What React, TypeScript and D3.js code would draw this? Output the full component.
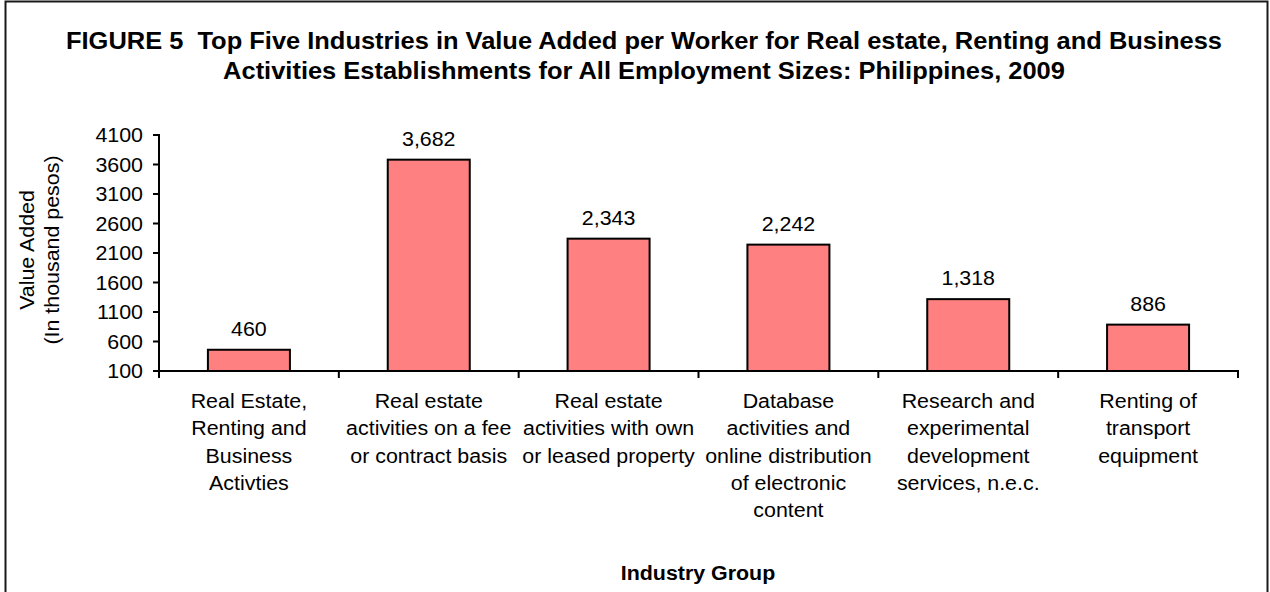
import React from "react";
import * as d3 from "d3";

const categories: string[][] = [
  ["Real Estate,", "Renting and", "Business", "Activties"],
  ["Real estate", "activities on a fee", "or contract basis"],
  ["Real estate", "activities with own", "or leased property"],
  ["Database", "activities and", "online distribution", "of electronic", "content"],
  ["Research and", "experimental", "development", "services, n.e.c."],
  ["Renting of", "transport", "equipment"],
];
const values: number[] = [460, 3682, 2343, 2242, 1318, 886];
const yTicks: number[] = [100, 600, 1100, 1600, 2100, 2600, 3100, 3600, 4100];
const titleLines: string[] = [
  "FIGURE 5  Top Five Industries in Value Added per Worker for Real estate, Renting and Business",
  "Activities Establishments for All Employment Sizes: Philippines, 2009",
];
const yLabelLines: string[] = ["Value Added", "(In thousand pesos)"];
const xTitle = "Industry Group";

const FONT = "'Liberation Sans', Arial, Helvetica, sans-serif";
const SX = 1.07;

function T(props: {
  x: number;
  y: number;
  anchor?: string;
  size?: number;
  weight?: string;
  rotate?: number;
  children: React.ReactNode;
}) {
  const { x, y, anchor = "middle", size = 20, weight = "normal", rotate = 0 } = props;
  return (
    <g transform={`translate(${x},${y}) rotate(${rotate}) scale(${SX},1)`}>
      <text
        x={0}
        y={0}
        textAnchor={anchor}
        fontFamily={FONT}
        fontSize={size}
        fontWeight={weight}
        fill="#000"
        style={{ whiteSpace: "pre" }}
      >
        {props.children}
      </text>
    </g>
  );
}

export default function App() {
  const W = 1270;
  const H = 592;
  const left = 159;
  const right = 1238;
  const top = 135;
  const bottom = 371;

  const y = d3.scaleLinear().domain([100, 4100]).range([bottom, top]);
  const idx = values.map((_, i) => String(i));
  const x = d3.scaleBand<string>().domain(idx).range([left, right]).padding(0);
  const bw = x.bandwidth() * 0.456;
  const fmt = d3.format(",");

  const boundaries = idx.map((k) => x(k) as number).concat([right]);

  return (
    <div style={{ position: "absolute", left: 0, top: 0 }}>
      <svg width={W} height={H} style={{ display: "block", background: "#fff" }}>
        <rect x={0} y={0} width={W} height={H} fill="#fff" />
        <rect x={5.5} y={1.5} width={1262} height={620} fill="none" stroke="#1a1a1a" strokeWidth={2} />

        {titleLines.map((t, i) => (
          <T key={i} x={644} y={49 + i * 30} size={23.8} weight="bold">
            {t}
          </T>
        ))}

        {/* bars */}
        {values.map((v, i) => {
          const cx = (x(String(i)) as number) + x.bandwidth() / 2;
          return (
            <g key={i}>
              <rect
                x={cx - bw / 2}
                y={y(v)}
                width={bw}
                height={bottom - y(v)}
                fill="#FF8080"
                stroke="#000"
                strokeWidth={2}
              />
              <T x={cx} y={y(v) - 14} size={20}>
                {fmt(v)}
              </T>
            </g>
          );
        })}

        {/* y axis */}
        <line x1={left} x2={left} y1={top - 1} y2={bottom + 1} stroke="#000" strokeWidth={2} />
        {yTicks.map((t) => (
          <g key={t}>
            <line x1={left - 6} x2={left} y1={y(t)} y2={y(t)} stroke="#000" strokeWidth={2} />
            <T x={143} y={y(t) + 7} anchor="end" size={20}>
              {t}
            </T>
          </g>
        ))}

        {/* x axis */}
        <line x1={left - 6} x2={right + 1} y1={bottom} y2={bottom} stroke="#000" strokeWidth={2} />
        {boundaries.map((b, i) => (
          <line key={i} x1={b} x2={b} y1={bottom} y2={bottom + 7} stroke="#000" strokeWidth={2} />
        ))}
        {categories.map((lines, i) => {
          const cx = (x(String(i)) as number) + x.bandwidth() / 2;
          return lines.map((l, j) => (
            <T key={`${i}-${j}`} x={cx} y={408 + j * 27.3} size={20}>
              {l}
            </T>
          ));
        })}

        <T x={698} y={580} size={20} weight="bold">
          {xTitle}
        </T>

        <T x={34} y={250} size={20} rotate={-90}>
          {yLabelLines[0]}
        </T>
        <T x={59} y={250} size={20} rotate={-90}>
          {yLabelLines[1]}
        </T>
      </svg>
    </div>
  );
}
